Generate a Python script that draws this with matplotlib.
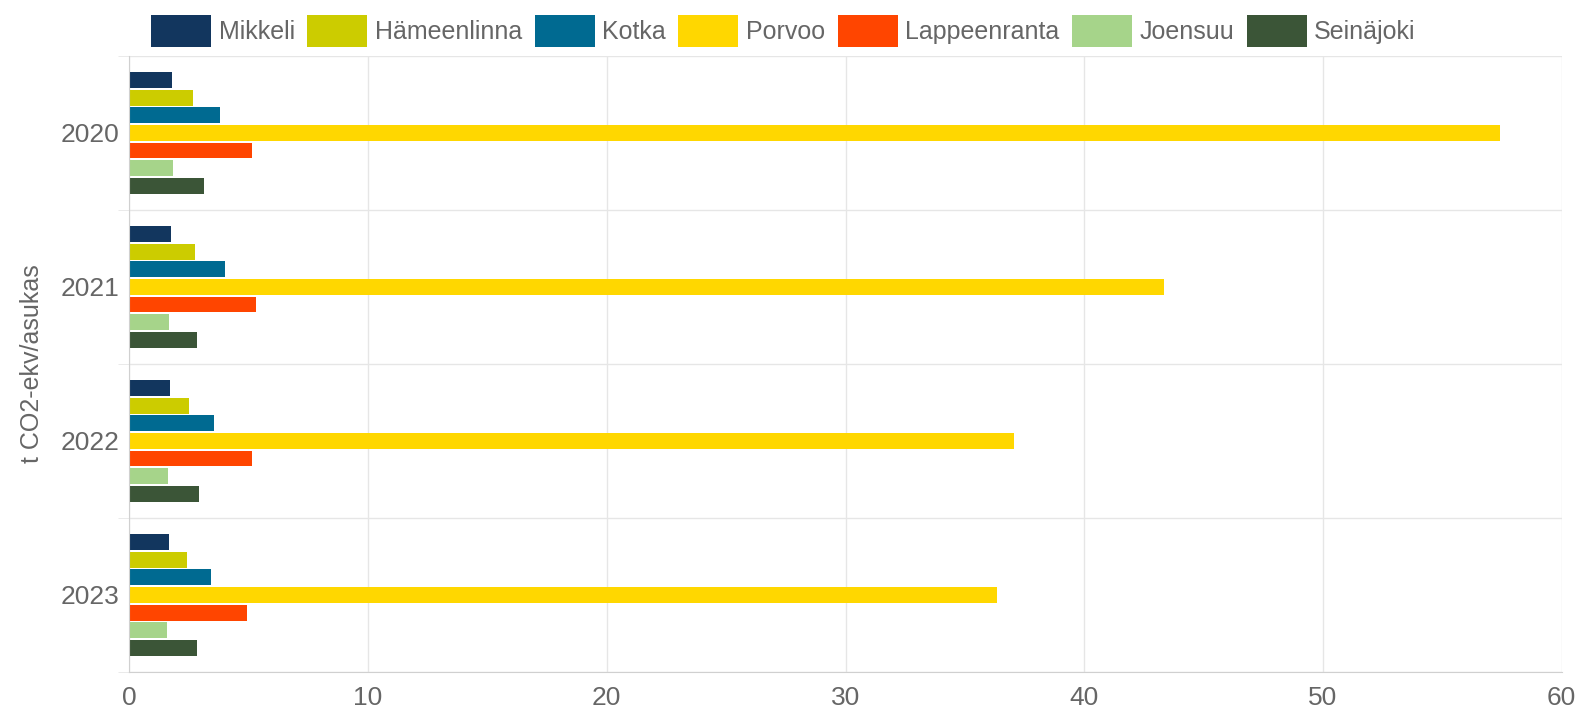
import numpy as np
import matplotlib.pyplot as plt

years = ['2020', '2021', '2022', '2023']
cities = ['Mikkeli', 'Hämeenlinna', 'Kotka', 'Porvoo', 'Lappeenranta', 'Joensuu', 'Seinäjoki']
colors = ['#12365e', '#cccc00', '#006a91', '#ffd700', '#ff4500', '#a6d48a', '#3b5537']

mikkeli = [1.79, 1.76, 1.70, 1.65]
hameenlinna = [2.65, 2.77, 2.49, 2.43]
kotka = [3.80, 4.02, 3.55, 3.41]
porvoo = [57.4, 43.35, 37.06, 36.36]
lappeenranta = [5.14, 5.31, 5.14, 4.94]
joensuu = [1.82, 1.65, 1.62, 1.57]
seinajoki = [3.13, 2.85, 2.91, 2.82]
series = [mikkeli, hameenlinna, kotka, porvoo, lappeenranta, joensuu, seinajoki]

plt.rcParams['font.family'] = ['Liberation Sans', 'DejaVu Sans']

fig = plt.figure(figsize=(15.81, 7.07), dpi=100)
ax = fig.add_axes([0.0818, 0.0495, 0.906, 0.8715])

y = np.arange(len(years))
slot = 0.8 / len(cities)
for i, (name, vals) in enumerate(zip(cities, series)):
    pos = y - 0.4 + slot * (i + 0.5)
    ax.barh(pos, vals, height=slot * 0.9, color=colors[i], label=name)

ax.set_xlim(0, 60)
ax.set_ylim(len(years) - 0.5, -0.5)
ax.set_xticks(range(0, 61, 10))
ax.set_yticks(y)
ax.set_yticklabels(years)
ax.set_yticks(np.arange(-0.5, len(years)), minor=True)
ax.grid(axis='x', color='#e6e6e6', linewidth=1)
ax.grid(axis='y', which='minor', color='#e6e6e6', linewidth=1)
ax.set_axisbelow(True)
for s in ['top', 'right']:
    ax.spines[s].set_visible(False)
for s in ['left', 'bottom']:
    ax.spines[s].set_color('#d0d0d0')
ax.tick_params(axis='both', which='major', length=0, labelsize=19, colors='#666666')
ax.tick_params(axis='y', which='major', pad=7)
ax.tick_params(axis='x', which='major', pad=10)
ax.tick_params(axis='y', which='minor', length=8, color='#e6e6e6')
ax.set_ylabel('t CO2-ekv/asukas', fontsize=18, color='#666666', labelpad=12)

fig.legend(loc='center', bbox_to_anchor=(0.4955, 0.956), ncol=7, frameon=False,
           fontsize=18, handlelength=2.4, handleheight=1.6, handletextpad=0.3,
           columnspacing=0.5, labelcolor='#666666')

fig.savefig('out.png', dpi=100)
